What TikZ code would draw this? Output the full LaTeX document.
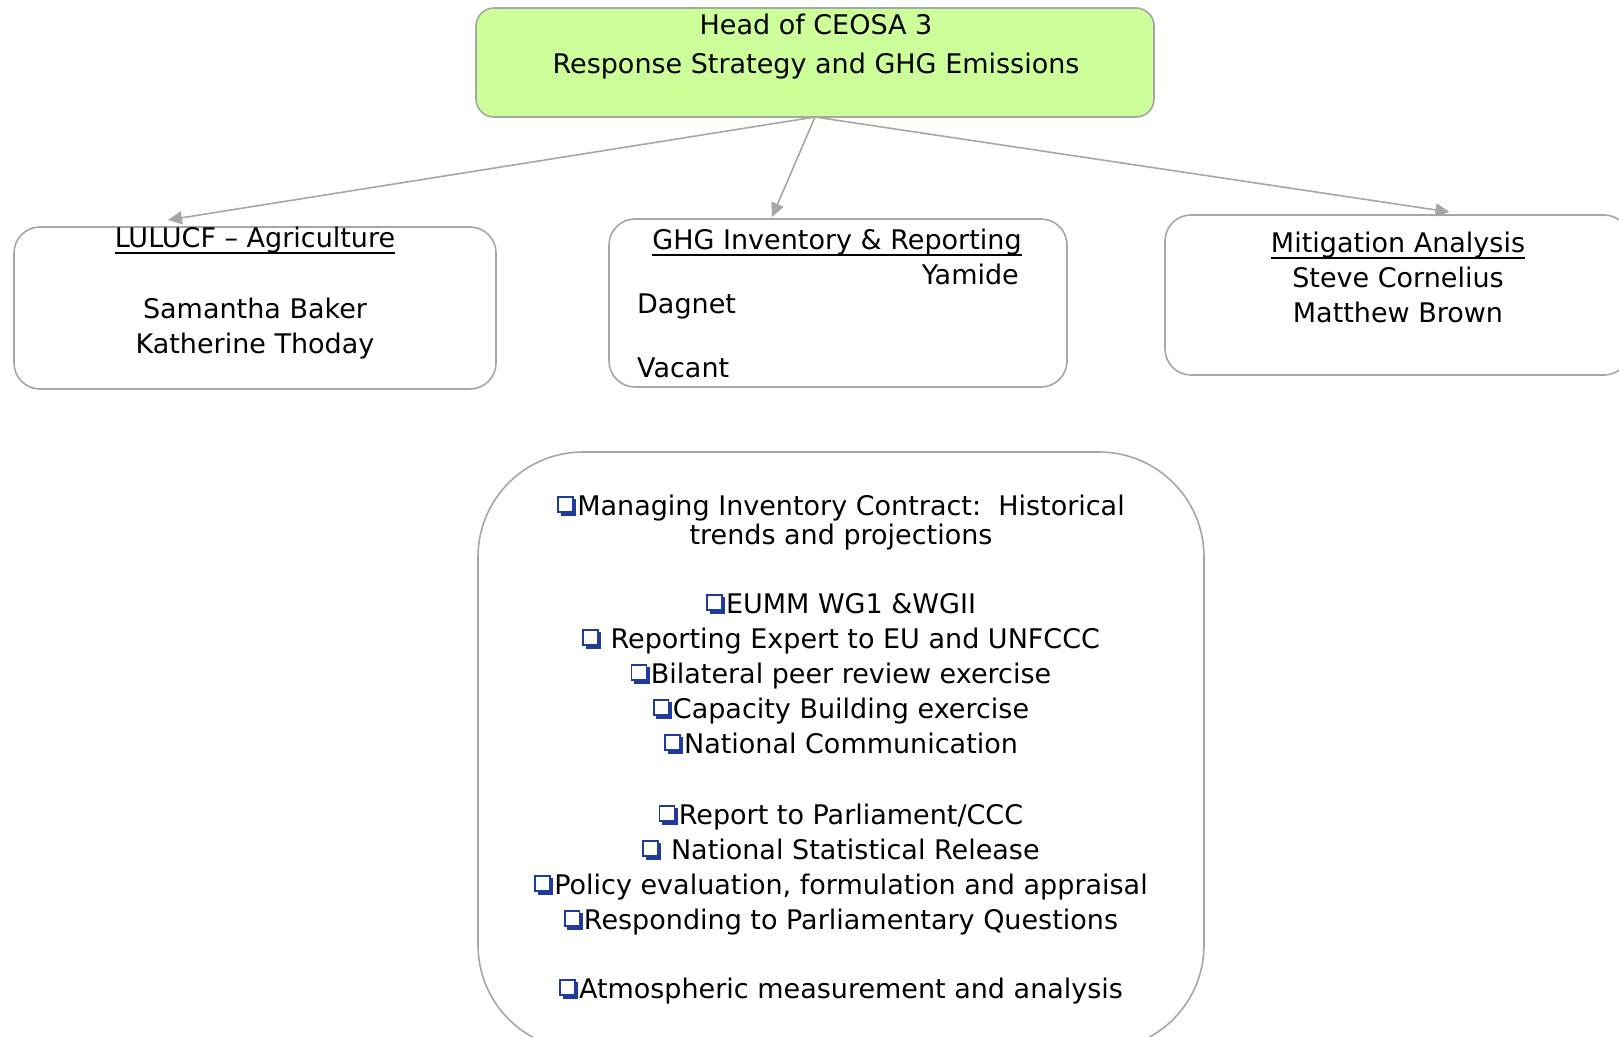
\documentclass[tikz,border=0pt]{standalone}
\usepackage{fontspec}
\setmainfont{DejaVu Sans}
\usetikzlibrary{arrows.meta}
\definecolor{headgreen}{HTML}{CCFF99}
\definecolor{edgegray}{HTML}{A6A6A6}
\definecolor{bulletblue}{HTML}{1F3C9C}
\newcommand{\bul}{\tikz[baseline=0pt,x=1pt,y=1pt,line width=1.6pt]{%
  \fill[bulletblue] (4,-0.5) rectangle (19.5,16);
  \filldraw[fill=white,draw=bulletblue] (1.3,2.8) rectangle (16.2,18);}\hspace{1pt}}
\newcommand{\ulin}[1]{\setbox0\hbox{#1}\rlap{\rule[-6.8pt]{\wd0}{2pt}}\box0}
\begin{document}
\begin{tikzpicture}[x=1pt,y=1pt, font=\fontsize{27}{35}\selectfont,
  box/.style={draw=edgegray, line width=1.6pt, rounded corners=26pt, inner sep=0pt, outer sep=0pt},
  lbl/.style={anchor=base, inner sep=0pt},
  arr/.style={draw=edgegray, line width=1.6pt, -{Triangle[length=14pt,width=13pt]}}]
\useasboundingbox (0,0) rectangle (1619,-1036);
\clip (0,0) rectangle (1619,-1036);

\node[box, fill=headgreen, rounded corners=18pt, minimum width=678pt, minimum height=109pt] (head) at (815,-62.5) {};
\node[box, minimum width=482pt, minimum height=162pt] (lulucf) at (255,-308) {};
\node[box, minimum width=458pt, minimum height=168pt] (ghg) at (838,-303) {};
\node[box, minimum width=465pt, minimum height=160pt] (mitig) at (1397.5,-295) {};
\node[box, rounded corners=105pt, minimum width=726pt, minimum height=598pt] (tasks) at (841,-751) {};

\draw[arr] (head.south) -- ([xshift=-87pt,yshift=7pt]lulucf.north);
\draw[arr] (head.south) -- ([xshift=-66pt,yshift=2pt]ghg.north);
\draw[arr] (head.south) -- ([xshift=52pt,yshift=3pt]mitig.north);

% head text
\node[lbl] (h1) at (816,-34) {Head of CEOSA 3};
\node[lbl] (h2) at (816,-73) {Response Strategy and GHG Emissions};

% LULUCF
\node[lbl] (l1) at (255,-247) {\ulin{LULUCF – Agriculture}};
\node[lbl] (l2) at (255,-318) {Samantha Baker};
\node[lbl] (l3) at (255,-353) {Katherine Thoday};

% GHG
\node[lbl] (g1) at (837,-249) {\ulin{GHG Inventory \& Reporting}};
\node[lbl, anchor=base east] (g2) at (1019,-284) {Yamide};
\node[lbl, anchor=base west] (g3) at (637,-313) {Dagnet};
\node[lbl, anchor=base west] (g4) at (637,-377) {Vacant};

% Mitigation
\node[lbl] (m1) at (1398,-252) {\ulin{Mitigation Analysis}};
\node[lbl] (m2) at (1398,-287) {Steve Cornelius};
\node[lbl] (m3) at (1398,-322) {Matthew Brown};

% tasks
\foreach \y/\t [count=\i] in {
  515/{\bul Managing Inventory Contract:\ \ Historical},
  544/{trends and projections},
  613/{\bul EUMM WG1 \&WGII},
  648/{\bul\ Reporting Expert to EU and UNFCCC},
  683/{\bul Bilateral peer review exercise},
  718/{\bul Capacity Building exercise},
  753/{\bul National Communication},
  824/{\bul Report to Parliament/CCC},
  859/{\bul\ National Statistical Release},
  894/{\bul Policy evaluation, formulation and appraisal},
  929/{\bul Responding to Parliamentary Questions},
  998/{\bul Atmospheric measurement and analysis}}
  \node[lbl, name=t\i] at (841,-\y) {\t};
\end{tikzpicture}
\end{document}
